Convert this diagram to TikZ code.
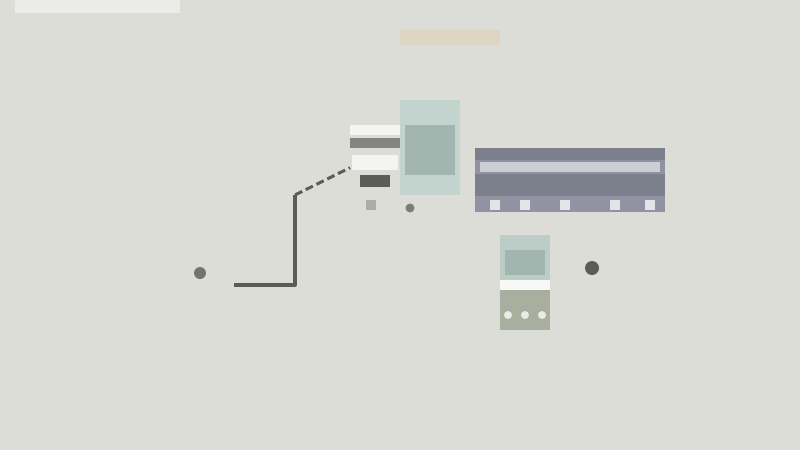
\documentclass[tikz,border=0pt]{standalone}
\usepackage{tikz}
\usetikzlibrary{positioning}

\definecolor{fond}{HTML}{DCDDD6}
\definecolor{trait}{HTML}{5A5C55}
\definecolor{vertclair}{HTML}{C3D4CF}
\definecolor{vertfonce}{HTML}{A3B5AF}
\definecolor{mauve}{HTML}{9193A2}
\definecolor{mauvefonce}{HTML}{7C7F8C}
\definecolor{olive}{HTML}{A8AF9F}

\tikzset{
  bloc/.style={draw=none, inner sep=0pt, anchor=north west},
  barre/.style={fill=#1, draw=none},
  point/.style={circle, fill=trait, inner sep=0pt, minimum size=#1},
  lien/.style={draw=trait, line width=4pt, line join=round}
}

\begin{document}
\begin{tikzpicture}[x=1pt, y=-1pt]
  \fill[fond] (0,0) rectangle (800,450);
  \useasboundingbox (0,0) rectangle (800,450);
  % bandeau du haut
  \fill[white, opacity=.45] (15,0) rectangle (180,13);
  \fill[orange!8!fond] (400,30) rectangle (500,45);

  % depart et chemin
  \node[point=12pt, fill=trait!85] (depart) at (200,273) {};
  \coordinate (bas) at (295,285);
  \coordinate (coude) at (295,195);
  \node[bloc, minimum width=50pt, minimum height=85pt] (pile) at (350,125) {};
  \draw[lien] (depart.east) ++(28,12) -- (bas) -- (coude);
  \draw[lien, line width=3pt, dash pattern=on 8pt off 4pt] (coude) -- (pile.west);

  % pile de lignes
  \fill[barre=white!70!fond] (350,125) rectangle (400,135);
  \fill[barre=trait!75] (350,138) rectangle (400,148);
  \fill[barre=white!70!fond] (352,155) rectangle (398,170);
  \fill[barre=trait] (360,175) rectangle (390,187);
  \fill[barre=trait!50] (366,200) rectangle (376,210);

  % boite verte
  \node[bloc, fill=vertclair, minimum width=60pt, minimum height=95pt] (vert) at (400,100) {};
  \fill[barre=vertfonce] (405,125) rectangle (455,175);
  \node[point=9pt, fill=trait!80] (marque) at (410,208) {};

  % boite mauve
  \node[bloc, fill=mauve, minimum width=190pt, minimum height=64pt] (mauve) at (475,148) {};
  \fill[barre=mauvefonce] (475,148) rectangle (665,160);
  \fill[barre=mauve!45!white] (480,162) rectangle (660,172);
  \fill[barre=mauvefonce] (475,174) rectangle (665,196);
  \foreach \x in {490,520,560,610,645}
    \fill[white!75!mauve] (\x,200) rectangle ++(10,10);

  % boite du bas
  \node[bloc, fill=vertclair!90!gray, minimum width=50pt, minimum height=95pt] (bas) at (500,235) {};
  \fill[barre=vertfonce] (505,250) rectangle (545,275);
  \fill[barre=white!80!fond] (500,280) rectangle (550,290);
  \fill[barre=olive] (500,290) rectangle (550,330);
  \foreach \x in {508,525,542}
    \fill[white!75!olive] (\x,315) circle (4);
  \node[point=14pt] (rond) at (592,268) {};
\end{tikzpicture}
\end{document}
